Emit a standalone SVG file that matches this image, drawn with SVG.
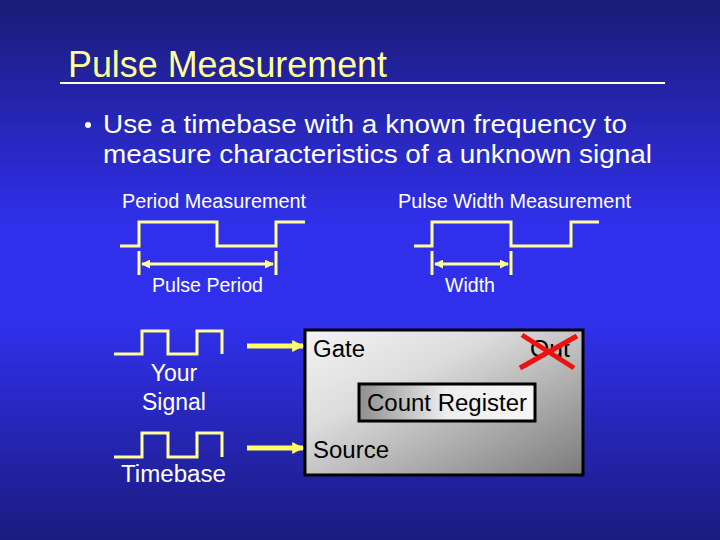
<svg xmlns="http://www.w3.org/2000/svg" width="720" height="540" viewBox="0 0 720 540">
<defs>
<linearGradient id="bg" x1="0" y1="0" x2="0" y2="1">
<stop offset="0" stop-color="#1b1b78"/>
<stop offset="0.42" stop-color="#3030ec"/>
<stop offset="0.6" stop-color="#3030ec"/>
<stop offset="1" stop-color="#1b1b80"/>
</linearGradient>
<linearGradient id="boxg" x1="0" y1="0" x2="1" y2="1">
<stop offset="0" stop-color="#f4f4f4"/>
<stop offset="0.35" stop-color="#dcdcdc"/>
<stop offset="1" stop-color="#7a7a7a"/>
</linearGradient>
<linearGradient id="regg" x1="0" y1="0" x2="1" y2="0">
<stop offset="0" stop-color="#8e8e8e"/>
<stop offset="0.5" stop-color="#eeeeee"/>
<stop offset="1" stop-color="#f6f6f6"/>
</linearGradient>
<marker id="ah" viewBox="0 0 10 10" refX="9" refY="5" markerWidth="3" markerHeight="3" orient="auto-start-reverse" markerUnits="strokeWidth">
<path d="M0,0 L10,5 L0,10 z" fill="#ffff99"/>
</marker>
<marker id="big" viewBox="0 0 10 10" refX="9" refY="5" markerWidth="2.4" markerHeight="2.4" orient="auto" markerUnits="strokeWidth">
<path d="M0,0 L10,5 L0,10 z" fill="#ffff66"/>
</marker>
</defs>
<style>
.t{font-family:"Liberation Sans",Arial,sans-serif;fill:#ffffff}
.b{font-family:"Liberation Sans",Arial,sans-serif;fill:#000000}
.w{fill:none;stroke:#ffff99;stroke-width:3}
.tick{stroke:#ffff99;stroke-width:3}
.dim{stroke:#ffff99;stroke-width:3;marker-start:url(#ah);marker-end:url(#ah)}
.arr{stroke:#ffff66;stroke-width:5;marker-end:url(#big)}
</style>
<rect width="720" height="540" fill="url(#bg)"/>
<g id="title">
<text x="68" y="77" font-family="Liberation Sans Narrow, Liberation Sans, Arial, sans-serif" font-size="36" fill="#ffff99" textLength="319" lengthAdjust="spacingAndGlyphs">Pulse Measurement</text>
<line x1="60" y1="83" x2="665" y2="83" stroke="#ffffcc" stroke-width="2"/>
</g>
<g id="bullet">
<circle cx="88" cy="125" r="3" fill="#ffffff"/>
<text class="t" x="103" y="133" font-size="25" textLength="524" lengthAdjust="spacingAndGlyphs">Use a timebase with a known frequency to</text>
<text class="t" x="103" y="163" font-size="25" textLength="549" lengthAdjust="spacingAndGlyphs">measure characteristics of a unknown signal</text>
</g>
<g id="period">
<text class="t" x="122" y="208" font-size="19.5" textLength="184" lengthAdjust="spacingAndGlyphs">Period Measurement</text>
<path class="w" d="M120,246 H139 V222 H217 V246 H276 V222 H305"/>
<line class="tick" x1="139" y1="251" x2="139" y2="275"/>
<line class="tick" x1="276" y1="251" x2="276" y2="275"/>
<line class="dim" x1="142" y1="264" x2="273" y2="264"/>
<text class="t" x="152" y="292" font-size="19.5" textLength="111" lengthAdjust="spacingAndGlyphs">Pulse Period</text>
</g>
<g id="width">
<text class="t" x="398" y="208" font-size="19.5" textLength="233" lengthAdjust="spacingAndGlyphs">Pulse Width Measurement</text>
<path class="w" d="M414,246 H432 V222 H511 V246 H571 V222 H599"/>
<line class="tick" x1="432" y1="251" x2="432" y2="275"/>
<line class="tick" x1="511" y1="251" x2="511" y2="275"/>
<line class="dim" x1="435" y1="264" x2="508" y2="264"/>
<text class="t" x="445" y="292" font-size="19.5" textLength="50" lengthAdjust="spacingAndGlyphs">Width</text>
</g>
<g id="your-signal">
<path class="w" d="M114,354 H142 V331 H168 V354 H197 V331 H222 V354"/>
<text class="t" x="174" y="381" font-size="23" text-anchor="middle">Your</text>
<text class="t" x="174" y="410" font-size="23" text-anchor="middle">Signal</text>
</g>
<g id="timebase">
<path class="w" d="M114,457 H142 V433 H168 V457 H197 V433 H222 V457"/>
<text class="t" x="121" y="482" font-size="23" textLength="105" lengthAdjust="spacingAndGlyphs">Timebase</text>
</g>
<g id="counter">
<rect x="305" y="330" width="278" height="145" fill="url(#boxg)" stroke="#000" stroke-width="3"/>
<text class="b" x="313" y="357" font-size="23" textLength="52" lengthAdjust="spacingAndGlyphs">Gate</text>
<text class="b" x="313" y="458" font-size="23" textLength="76" lengthAdjust="spacingAndGlyphs">Source</text>
<text class="b" x="530" y="357" font-size="23" textLength="40" lengthAdjust="spacingAndGlyphs">Out</text>
<path d="M522,335 L574,368 M520,368 L577,336" stroke="#ee1111" stroke-width="5" fill="none"/>
</g>
<g id="count-register">
<rect x="359" y="384" width="176" height="37" fill="url(#regg)" stroke="#000" stroke-width="3"/>
<text class="b" x="367" y="411" font-size="23" textLength="160" lengthAdjust="spacingAndGlyphs">Count Register</text>
</g>
<g id="connectors">
<line class="arr" x1="247" y1="346" x2="303" y2="346"/>
<line class="arr" x1="247" y1="448" x2="303" y2="448"/>
</g>
</svg>
